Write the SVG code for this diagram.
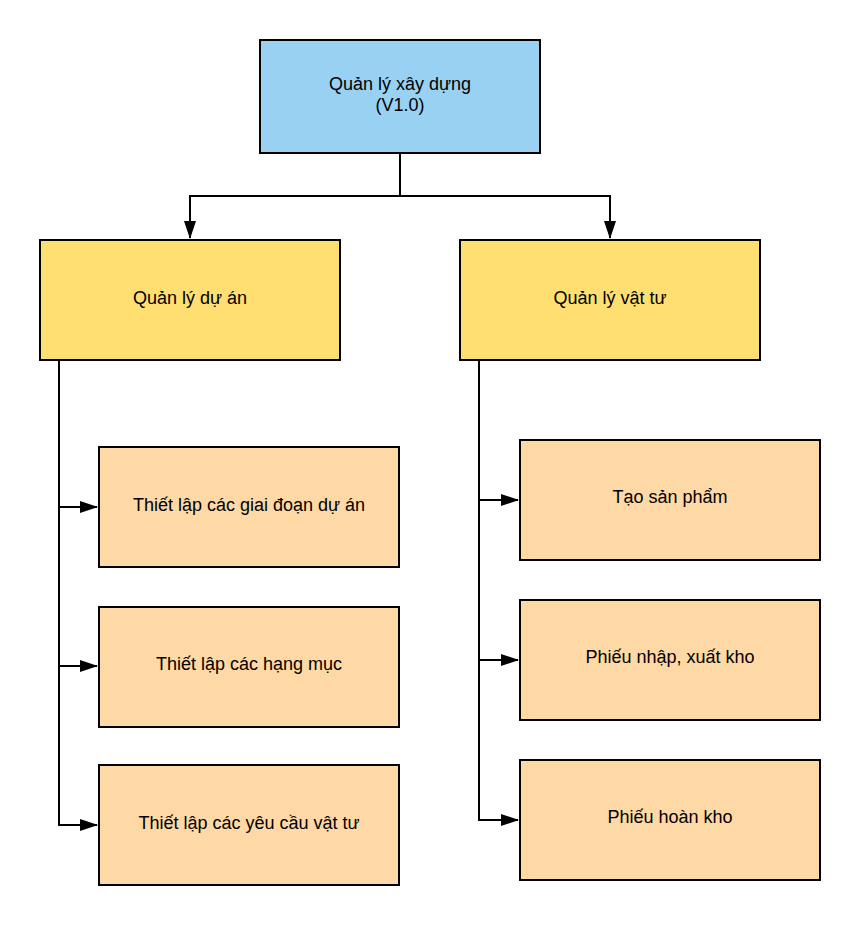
<svg xmlns="http://www.w3.org/2000/svg" width="860" height="925" viewBox="0 0 860 925">
<defs>
<marker id="arr" markerWidth="18" markerHeight="12" refX="17" refY="6" orient="auto" markerUnits="userSpaceOnUse">
<polygon points="0,0 18,6 0,12" fill="#000"/>
</marker>
<style>
.box{stroke:#000;stroke-width:2}
.root{fill:#99d1f3}
.mid{fill:#ffdf72}
.leaf{fill:#fed9a6}
.t{font-family:"Liberation Sans",Arial,sans-serif;font-size:18px;fill:#000;text-anchor:middle}
.c{fill:none;stroke:#000;stroke-width:2}
</style>
</defs>
<rect width="860" height="925" fill="#fff"/>
<g id="connectors">
<polyline class="c" points="400,153 400,196 190,196 190,238" marker-end="url(#arr)"/>
<polyline class="c" points="400,196 610,196 610,238" marker-end="url(#arr)"/>
<polyline class="c" points="59,360 59,507 97,507" marker-end="url(#arr)"/>
<polyline class="c" points="59,507 59,666 97,666" marker-end="url(#arr)"/>
<polyline class="c" points="59,666 59,825 97,825" marker-end="url(#arr)"/>
<polyline class="c" points="479,360 479,500 518,500" marker-end="url(#arr)"/>
<polyline class="c" points="479,500 479,660 518,660" marker-end="url(#arr)"/>
<polyline class="c" points="479,660 479,820 518,820" marker-end="url(#arr)"/>
</g>
<g id="root">
<rect class="box root" x="260" y="40" width="280" height="113"/>
<text class="t" x="400" y="90">Quản lý xây dựng</text>
<text class="t" x="400" y="111">(V1.0)</text>
</g>
<g id="qlda">
<rect class="box mid" x="40" y="240" width="300" height="120"/>
<text class="t" x="190" y="304">Quản lý dự án</text>
</g>
<g id="qlvt">
<rect class="box mid" x="460" y="240" width="300" height="120"/>
<text class="t" x="610" y="304">Quản lý vật tư</text>
</g>
<g id="giaidoan">
<rect class="box leaf" x="99" y="447" width="300" height="120"/>
<text class="t" x="249" y="511">Thiết lập các giai đoạn dự án</text>
</g>
<g id="hangmuc">
<rect class="box leaf" x="99" y="607" width="300" height="120"/>
<text class="t" x="249" y="670">Thiết lập các hạng mục</text>
</g>
<g id="yeucau">
<rect class="box leaf" x="99" y="765" width="300" height="120"/>
<text class="t" x="249" y="829">Thiết lập các yêu cầu vật tư</text>
</g>
<g id="sanpham">
<rect class="box leaf" x="520" y="440" width="300" height="120"/>
<text class="t" x="670" y="503">Tạo sản phẩm</text>
</g>
<g id="nhapxuat">
<rect class="box leaf" x="520" y="600" width="300" height="120"/>
<text class="t" x="670" y="663">Phiếu nhập, xuất kho</text>
</g>
<g id="hoankho">
<rect class="box leaf" x="520" y="760" width="300" height="120"/>
<text class="t" x="670" y="823">Phiếu hoàn kho</text>
</g>
</svg>
